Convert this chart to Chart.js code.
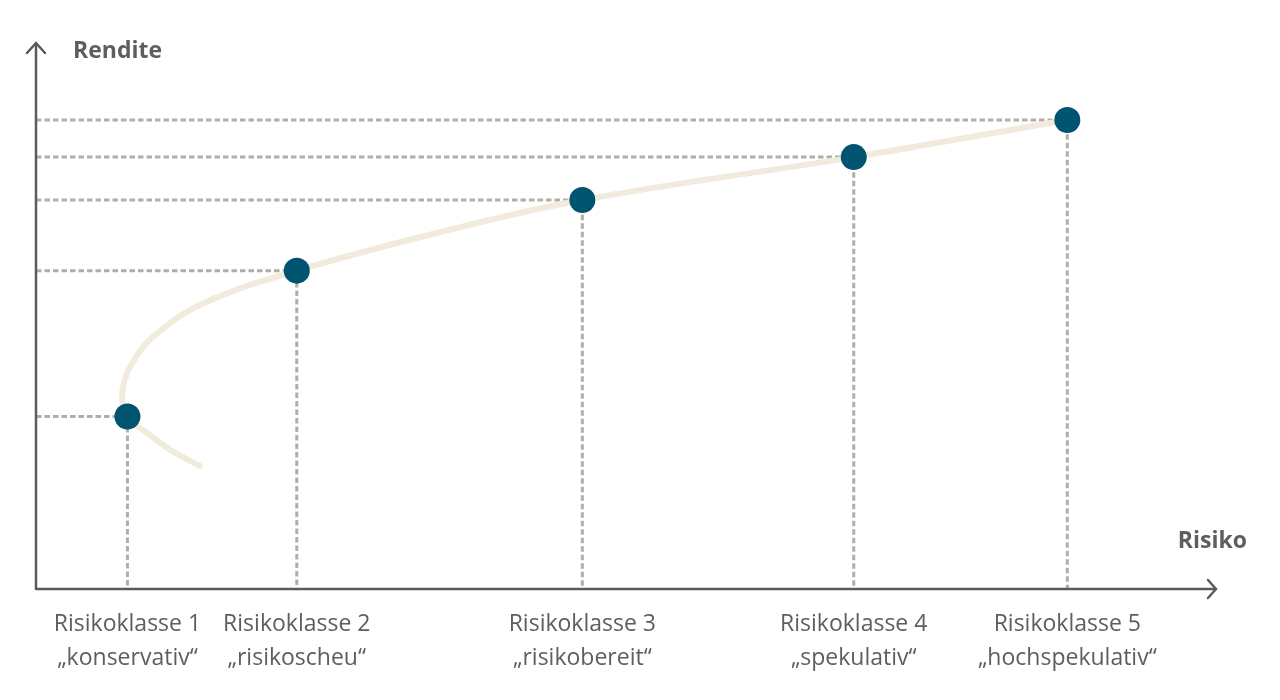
<!DOCTYPE html>
<html lang="de">
<head>
<meta charset="utf-8">
<title>Rendite und Risiko</title>
<script src="https://cdn.jsdelivr.net/npm/chart.js@4/dist/chart.umd.min.js"></script>
<style>
    html, body { margin: 0; padding: 0; background: #ffffff; }
    #wrap { width: 1280px; height: 700px; position: relative; }
</style>
</head>
<body>
<div id="wrap"><canvas id="riskChart"></canvas></div>
<script>
// Risikoklassen (Achsenbeschriftung)
const classLabels = ['Risikoklasse 1', 'Risikoklasse 2', 'Risikoklasse 3', 'Risikoklasse 4', 'Risikoklasse 5'];
const classNames = ['„konservativ“', '„risikoscheu“', '„risikobereit“', '„spekulativ“', '„hochspekulativ“'];

// Lage der Risikoklassen (Risiko 0-100, Rendite 0-100)
const classRisk = [7.75, 22.1, 46.3, 69.3, 87.4];
const classReturn = [31.6, 58.3, 71.25, 79.1, 85.9];

// Effizienzkurve
const curveRisk = [13.9, 11.53, 9.66, 7.75, 7.33, 8.47, 10.51, 14.32, 22.1, 33.64, 46.3, 69.3, 87.4];
const curveReturn = [22.53, 25.27, 28.21, 31.6, 36.45, 42.49, 47.25, 52.47, 58.3, 65.02, 71.25, 79.1, 85.9];

const axisColor = '#5b5b5b';
const textColor = '#5e5e5e';
const dashColor = '#b2ada7';
const dotColor = '#00546f';
const curveColor = '#f1ebdd';

const datasets = [];

// Punkte
datasets.push({
    data: classRisk.map((x, i) => ({ x: x, y: classReturn[i] })),
    showLine: false,
    pointRadius: 13,
    pointHoverRadius: 13,
    pointBackgroundColor: dotColor,
    pointBorderWidth: 0,
    order: 0
});

// Kurve
datasets.push({
    data: curveRisk.map((x, i) => ({ x: x, y: curveReturn[i] })),
    borderColor: curveColor,
    borderWidth: 6,
    borderCapStyle: 'round',
    tension: 0.4,
    pointRadius: 0,
    fill: false,
    order: 1
});

// Hilfslinien gestrichelt
classRisk.forEach((x, i) => {
    datasets.push({
        data: [{ x: 0, y: classReturn[i] }, { x: x, y: classReturn[i] }, { x: x, y: 0 }],
        borderColor: dashColor,
        borderWidth: 3,
        borderDash: [5.5, 3],
        tension: 0,
        pointRadius: 0,
        fill: false,
        order: 2
    });
});

// Achsen mit Pfeilen und Beschriftungen
const axesPlugin = {
    id: 'axesPlugin',
    afterDatasetsDraw(chart) {
        const ctx = chart.ctx;
        const a = chart.chartArea;
        const xs = chart.scales.x;
        ctx.save();
        ctx.strokeStyle = axisColor;
        ctx.lineWidth = 2.5;
        ctx.lineCap = 'round';
        ctx.lineJoin = 'round';
        ctx.beginPath();
        ctx.moveTo(a.left, a.top);
        ctx.lineTo(a.left, a.bottom);
        ctx.lineTo(a.right, a.bottom);
        ctx.stroke();
        // Pfeil oben
        ctx.beginPath();
        ctx.moveTo(a.left - 9, a.top + 10);
        ctx.lineTo(a.left, a.top);
        ctx.lineTo(a.left + 9, a.top + 10);
        ctx.stroke();
        // Pfeil rechts
        ctx.beginPath();
        ctx.moveTo(a.right - 8, a.bottom - 9);
        ctx.lineTo(a.right, a.bottom);
        ctx.lineTo(a.right - 8, a.bottom + 9);
        ctx.stroke();

        ctx.fillStyle = textColor;
        ctx.font = 'bold 23px "Open Sans", sans-serif';
        ctx.textBaseline = 'middle';
        ctx.textAlign = 'left';
        ctx.fillText('Rendite', a.left + 37, 51);
        ctx.textAlign = 'right';
        ctx.fillText('Risiko', 1247, 541);

        ctx.font = '23px "Open Sans", sans-serif';
        ctx.textAlign = 'center';
        classRisk.forEach((x, i) => {
            const px = xs.getPixelForValue(x);
            ctx.fillText(classLabels[i], px, a.bottom + 35);
            ctx.fillText(classNames[i], px, a.bottom + 69);
        });
        ctx.restore();
    }
};

const chart = new Chart(document.getElementById('riskChart'), {
    type: 'line',
    data: { datasets: datasets },
    options: {
        responsive: true,
        maintainAspectRatio: false,
        animation: false,
        layout: { padding: { left: 36, right: 64, top: 43, bottom: 111 } },
        plugins: { legend: { display: false }, tooltip: { enabled: false } },
        scales: {
            x: { type: 'linear', min: 0, max: 100, display: false },
            y: { type: 'linear', min: 0, max: 100, display: false }
        }
    },
    plugins: [axesPlugin]
});
</script>
</body>
</html>
